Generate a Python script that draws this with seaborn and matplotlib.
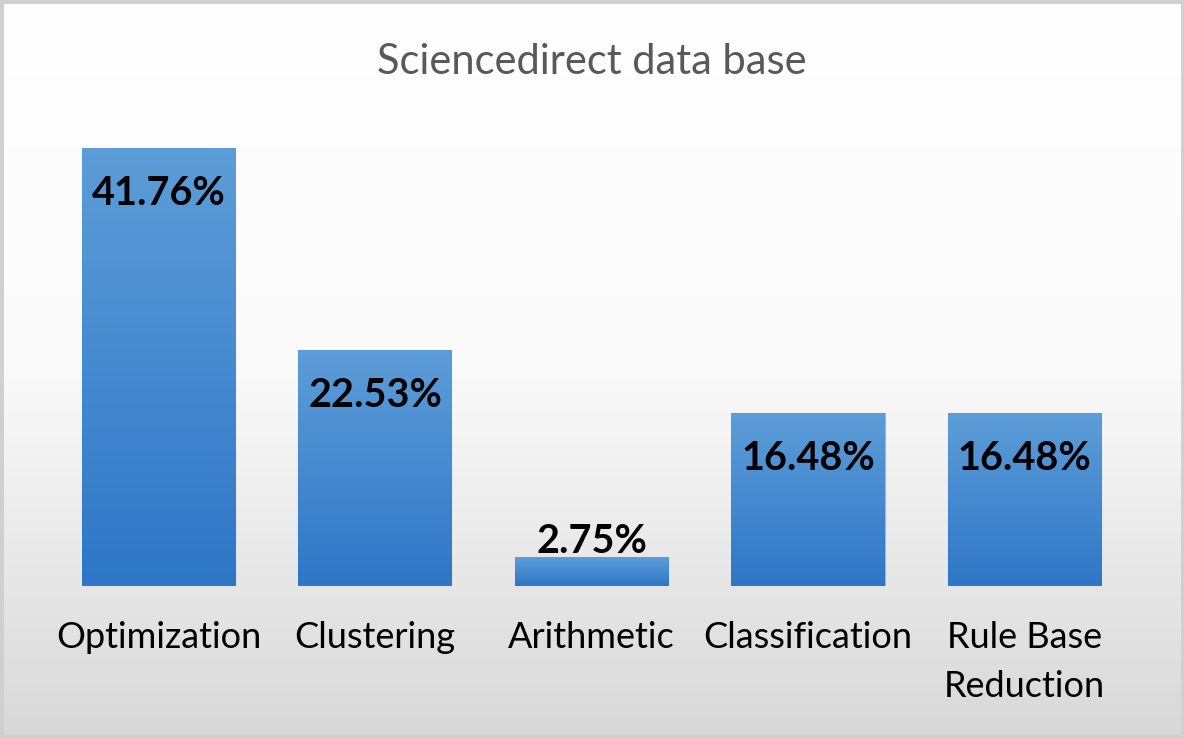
import numpy as np
import pandas as pd
import seaborn as sns
import matplotlib.pyplot as plt
from matplotlib.colors import LinearSegmentedColormap
from matplotlib.patches import Rectangle

# Chart data
categories = ['Optimization', 'Clustering', 'Arithmetic', 'Classification', 'Rule Base\nReduction']
shares = [41.76, 22.53, 2.75, 16.48, 16.48]
value_labels = ['41.76%', '22.53%', '2.75%', '16.48%', '16.48%']

df = pd.DataFrame({'topic': categories, 'share': shares})

sns.set_style('white')
plt.rcParams['font.family'] = ['Lato', 'DejaVu Sans']

fig = plt.figure(figsize=(11.84, 7.38), dpi=100)

# Background: white at the top fading to light grey at the bottom
bg = fig.add_axes([0, 0, 1, 1], zorder=-10)
bg_cmap = LinearSegmentedColormap.from_list('bg', ['#ffffff', '#fafafa', '#d8d8d8'])
bg.imshow(np.linspace(0, 1, 256)[:, None], aspect='auto', cmap=bg_cmap, extent=[0, 1, 0, 1])
bg.axis('off')
fig.patches.append(Rectangle((0, 0), 1, 1, transform=fig.transFigure, fill=False,
                             edgecolor='#d0d0d0', linewidth=5))

ax = fig.add_axes([0.0424, 0.206, 0.9143, 0.6396])
ax.patch.set_alpha(0)
sns.barplot(data=df, x='topic', y='share', ax=ax, width=0.707, color='#5b9bd5')
ax.set_ylim(0, 45)
xlim = ax.get_xlim()

# Vertical gradient inside each bar
bar_cmap = LinearSegmentedColormap.from_list('bar', ['#5d9dd8', '#2e76c7'])
grad = np.linspace(0, 1, 256)[:, None]
for patch in ax.patches:
    x0, w, h = patch.get_x(), patch.get_width(), patch.get_height()
    img = ax.imshow(grad, cmap=bar_cmap, aspect='auto', extent=[x0, x0 + w, 0, h], zorder=2)
    img.set_clip_path(patch)
    patch.set_edgecolor('#8fbbe6')
    patch.set_linewidth(0.8)
ax.set_xlim(xlim)
ax.set_ylim(0, 45)

# Value labels
for i, (val, lab) in enumerate(zip(shares, value_labels)):
    if val > 6:
        ax.annotate(lab, (i, val), xytext=(0, -33), textcoords='offset points',
                    ha='center', va='center', fontsize=28.5, fontweight='bold', color='black', zorder=5)
    else:
        ax.annotate(lab, (i, val), xytext=(0, 11), textcoords='offset points',
                    ha='center', va='center', fontsize=28.5, fontweight='bold', color='black', zorder=5)

sns.despine(ax=ax, left=True, bottom=True)
ax.set_xlabel('')
ax.set_ylabel('')
ax.set_yticks([])
ax.tick_params(axis='x', length=0, pad=25, labelsize=26, labelcolor='black')
for t in ax.get_xticklabels():
    t.set_linespacing(1.6)

fig.text(0.5, 1 - 62 / 738, 'Sciencedirect data base', ha='center', va='center',
         fontsize=30, color='#595959')

fig.savefig('out.png', dpi=100)
